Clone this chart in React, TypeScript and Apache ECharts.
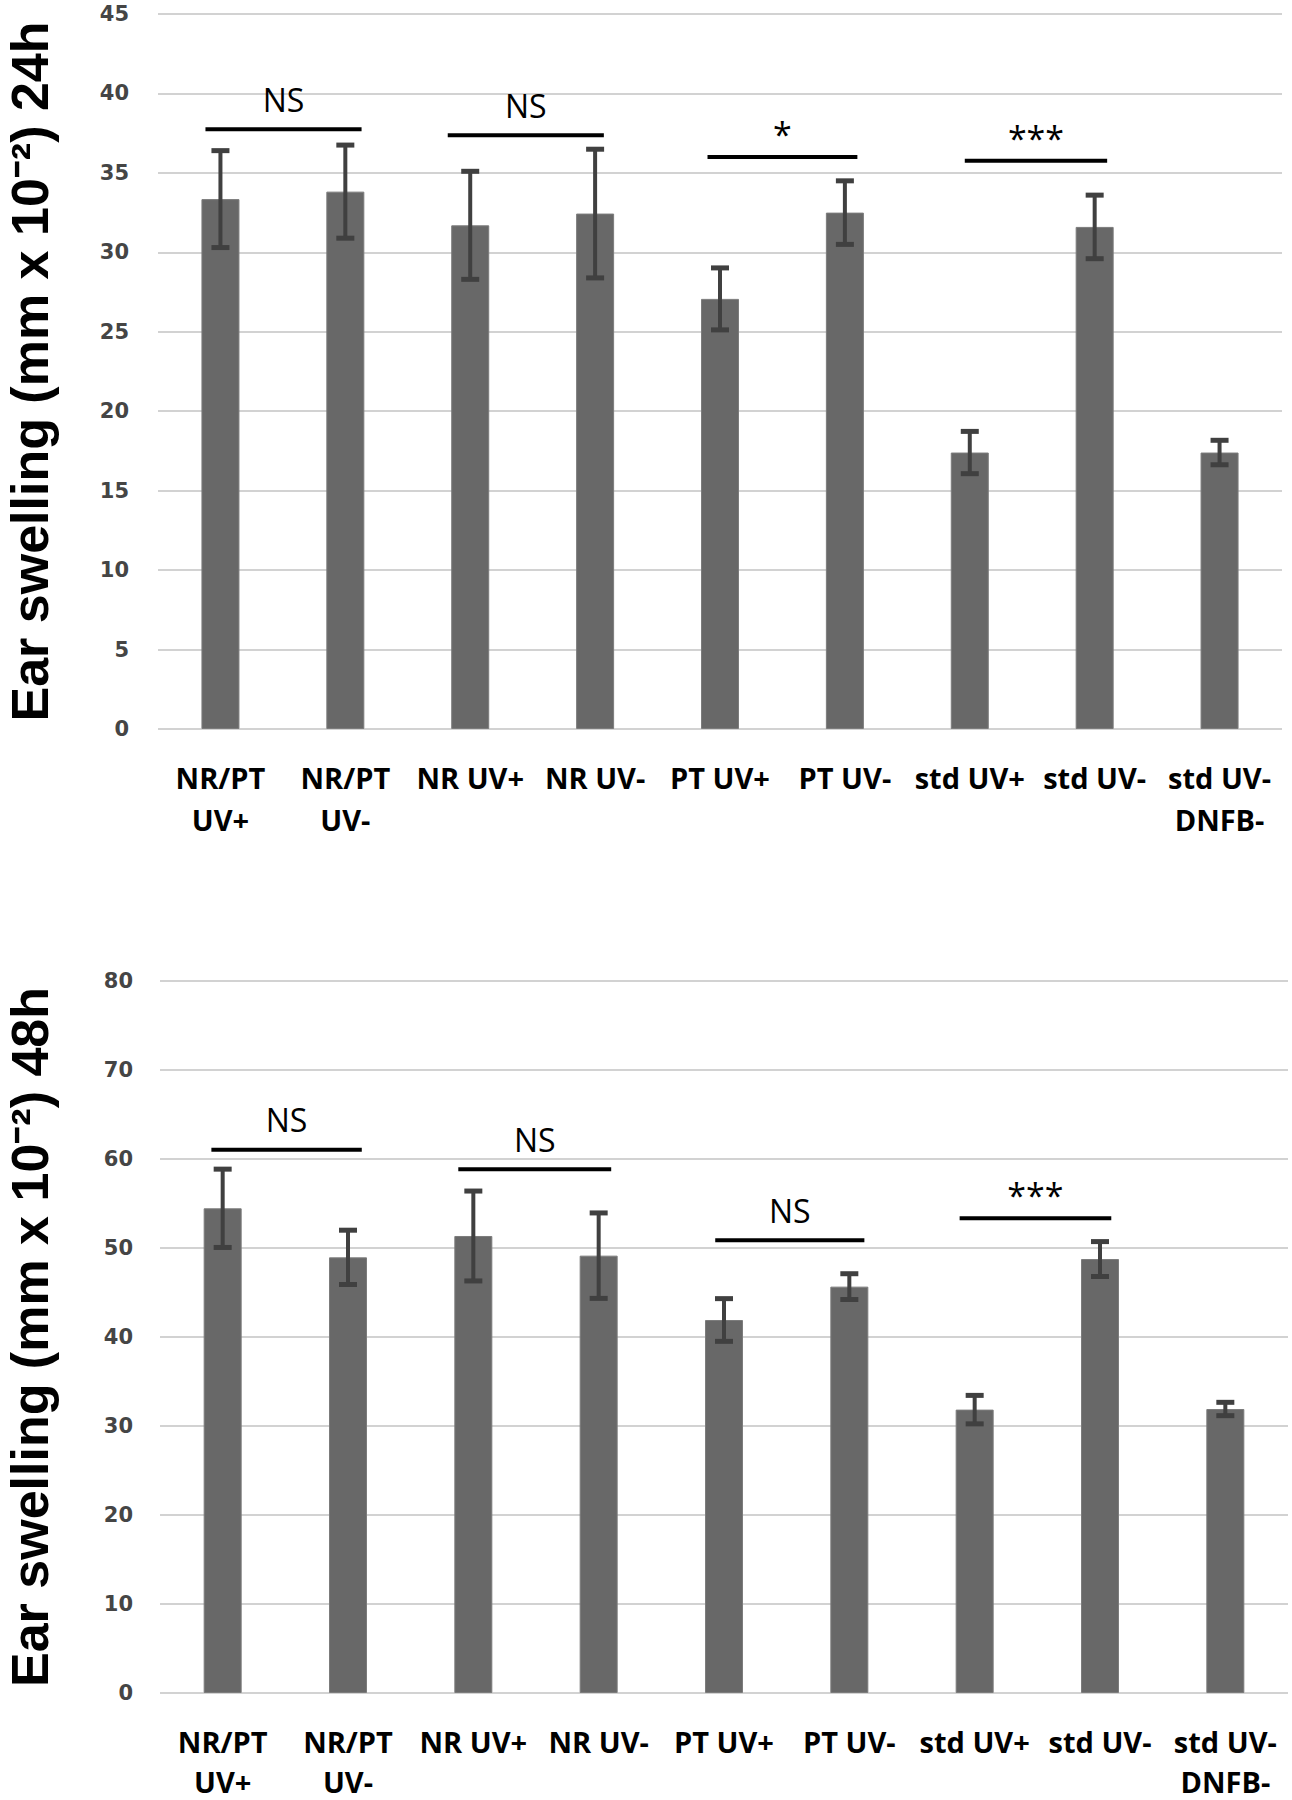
import React, { useEffect, useRef } from "react";
import * as echarts from "echarts";

const categories = [
  "NR/PT\nUV+",
  "NR/PT\nUV-",
  "NR UV+",
  "NR UV-",
  "PT UV+",
  "PT UV-",
  "std UV+",
  "std UV-",
  "std UV-\nDNFB-",
];

// 24h panel
const values24 = [33.35, 33.82, 31.7, 32.44, 27.07, 32.5, 17.4, 31.6, 17.4];
const errors24 = [3.05, 2.93, 3.4, 4.05, 1.95, 2.0, 1.33, 2.0, 0.77];
const ticks24 = { min: 0, max: 45, interval: 5 };
// significance brackets: from / to in category units, y level, label
const bracketFrom24 = [-0.12, 1.82, 3.9, 5.96];
const bracketTo24 = [1.13, 3.07, 5.1, 7.1];
const bracketY24 = [37.74, 37.37, 36.0, 35.77];
const bracketText24 = ["NS", "NS", "*", "***"];

// 48h panel
const values48 = [54.46, 48.95, 51.35, 49.14, 41.91, 45.66, 31.84, 48.76, 31.91];
const errors48 = [4.4, 3.05, 5.05, 4.8, 2.4, 1.45, 1.6, 1.96, 0.75];
const ticks48 = { min: 0, max: 80, interval: 10 };
const bracketFrom48 = [-0.09, 1.88, 3.93, 5.88];
const bracketTo48 = [1.11, 3.1, 5.12, 7.09];
const bracketY48 = [61.05, 58.84, 50.86, 53.33];
const bracketText48 = ["NS", "NS", "NS", "***"];

const title24 = "Ear swelling (mm x 10⁻²) 24h";
const title48 = "Ear swelling (mm x 10⁻²) 48h";

const BAR_COLOR = "#686868";
const ERR_COLOR = "#404040";
const GRID_COLOR = "#d2d2d2";

function xAxisFor(gridIndex: number, lineHeight: number, margin: number) {
  return {
    type: "category",
    gridIndex,
    data: categories,
    axisLine: { show: false },
    axisTick: { show: false },
    axisLabel: {
      interval: 0,
      hideOverlap: false,
      margin,
      lineHeight,
      fontSize: 29,
      fontWeight: "bold",
      fontFamily: "Open Sans",
      color: "#000",
    },
  };
}

function yAxisFor(gridIndex: number, t: any, name: string, margin: number, gap: number) {
  return {
    type: "value",
    gridIndex,
    min: t.min,
    max: t.max,
    interval: t.interval,
    axisLine: { show: false },
    axisTick: { show: false },
    splitLine: { lineStyle: { color: GRID_COLOR, width: 2 } },
    axisLabel: {
      margin,
      fontSize: 21,
      fontWeight: "bold",
      fontFamily: "DejaVu Sans",
      color: "#454545",
    },
    name,
    nameLocation: "middle",
    nameRotate: 90,
    nameGap: gap,
    nameTextStyle: {
      fontSize: 52,
      lineHeight: 44,
      fontWeight: "bold",
      fontFamily: "Liberation Sans",
      color: "#000",
    },
  };
}

function errorSeries(idx: number, values: number[], errors: number[]) {
  return {
    type: "custom",
    xAxisIndex: idx,
    yAxisIndex: idx,
    clip: false,
    z: 5,
    encode: { x: 0, y: 1 },
    data: values.map((v, i) => [i, v, errors[i]]),
    renderItem: (params: any, api: any) => {
      const i = api.value(0);
      const v = api.value(1);
      const e = api.value(2);
      const top = api.coord([i, v + e]);
      const bot = api.coord([i, v - e]);
      const half = 9;
      return {
        type: "group",
        children: [
          {
            type: "line",
            shape: { x1: top[0], y1: top[1], x2: bot[0], y2: bot[1] },
            style: { stroke: ERR_COLOR, lineWidth: 4 },
          },
          {
            type: "line",
            shape: { x1: top[0] - half, y1: top[1], x2: top[0] + half, y2: top[1] },
            style: { stroke: ERR_COLOR, lineWidth: 5 },
          },
          {
            type: "line",
            shape: { x1: bot[0] - half, y1: bot[1], x2: bot[0] + half, y2: bot[1] },
            style: { stroke: ERR_COLOR, lineWidth: 5 },
          },
        ],
      };
    },
  };
}

function bracketSeries(
  idx: number,
  from: number[],
  to: number[],
  ys: number[],
  texts: string[]
) {
  return {
    type: "custom",
    xAxisIndex: idx,
    yAxisIndex: idx,
    clip: false,
    z: 6,
    encode: { x: 0, y: 1 },
    data: from.map((f, i) => [0, ys[i], f, to[i], i]),
    renderItem: (params: any, api: any) => {
      const y = api.value(1);
      const f = api.value(2);
      const t = api.value(3);
      const k = api.value(4);
      const base = api.coord([0, y]);
      const band = api.size([1, 0])[0];
      const x0 = base[0] + f * band;
      const x1 = base[0] + t * band;
      const py = base[1];
      const txt = texts[k];
      const isStar = txt.indexOf("*") >= 0;
      return {
        type: "group",
        children: [
          {
            type: "line",
            shape: { x1: x0, y1: py, x2: x1, y2: py },
            style: { stroke: "#000", lineWidth: 4 },
          },
          {
            type: "text",
            x: (x0 + x1) / 2,
            y: py - (isStar ? 6 : 14),
            style: {
              text: txt,
              fill: "#000",
              fontSize: isStar ? 34 : 32,
              fontFamily: "Open Sans",
              align: "center",
              verticalAlign: "bottom",
            },
          },
        ],
      };
    },
  };
}

export default function App() {
  const ref = useRef<HTMLDivElement>(null);
  useEffect(() => {
    if (!ref.current) return;
    const chart = echarts.init(ref.current, undefined, { renderer: "svg" });
    chart.setOption({
      animation: false,
      backgroundColor: "#fff",
      grid: [
        { left: 158, right: 10, top: 14, height: 715, containLabel: false, outerBoundsMode: "none" },
        { left: 160, right: 4, top: 981, height: 712, containLabel: false, outerBoundsMode: "none" },
      ],
      xAxis: [xAxisFor(0, 42, 27), xAxisFor(1, 40, 28)],
      yAxis: [
        yAxisFor(0, ticks24, title24, 29, 106),
        yAxisFor(1, ticks48, title48, 27, 108),
      ],
      series: [
        {
          type: "bar",
          xAxisIndex: 0,
          yAxisIndex: 0,
          data: values24,
          barWidth: 38,
          itemStyle: { color: BAR_COLOR, borderColor: "#7c7c7c", borderWidth: 1 },
        },
        errorSeries(0, values24, errors24),
        bracketSeries(0, bracketFrom24, bracketTo24, bracketY24, bracketText24),
        {
          type: "bar",
          xAxisIndex: 1,
          yAxisIndex: 1,
          data: values48,
          barWidth: 38,
          itemStyle: { color: BAR_COLOR, borderColor: "#7c7c7c", borderWidth: 1 },
        },
        errorSeries(1, values48, errors48),
        bracketSeries(1, bracketFrom48, bracketTo48, bracketY48, bracketText48),
      ],
    });
    return () => chart.dispose();
  }, []);
  return (
    <div
      ref={ref}
      style={{ position: "absolute", left: 0, top: 0, width: 1292, height: 1800 }}
    />
  );
}
